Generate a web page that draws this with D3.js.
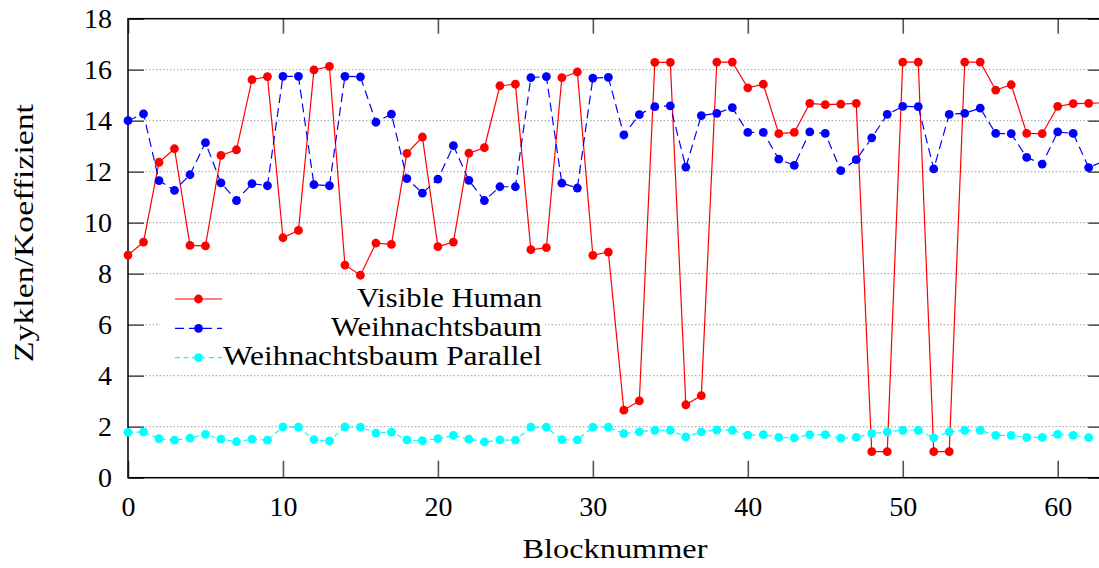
<!DOCTYPE html>
<html>
<head>
<meta charset="utf-8">
<script src="https://cdn.jsdelivr.net/npm/d3@7/dist/d3.min.js"></script>
<style>
  html, body { margin: 0; padding: 0; background: #fff; }
  svg { display: block; }
  svg text { font-family: 'Liberation Serif' !important; }
</style>
</head>
<body>
<svg id="chart" width="1099" height="568"></svg>
<script>
// Cycles per coefficient for each block (block number = array index)
const visibleHuman = [
  8.73, 9.24, 12.37, 12.9, 9.11, 9.09, 12.64, 12.86, 15.61, 15.73,
  9.41, 9.7, 15.99, 16.13, 8.34, 7.94, 9.2, 9.15, 12.72, 13.36,
  9.06, 9.24, 12.73, 12.94, 15.37, 15.43, 8.94, 9.02, 15.69, 15.91,
  8.72, 8.85, 2.65, 3.01, 16.29, 16.29, 2.86, 3.22, 16.3, 16.3,
  15.29, 15.43, 13.49, 13.54, 14.68, 14.63, 14.65, 14.68, 1.02, 1.02,
  16.3, 16.3, 1.02, 1.02, 16.3, 16.3, 15.2, 15.41, 13.5, 13.49,
  14.56, 14.67, 14.68, 14.7
];
const weihnachtsbaum = [
  14.0, 14.27, 11.65, 11.27, 11.88, 13.14, 11.56, 10.87, 11.53, 11.45,
  15.74, 15.74, 11.49, 11.45, 15.74, 15.72, 13.94, 14.26, 11.73, 11.16,
  11.71, 13.02, 11.66, 10.87, 11.41, 11.41, 15.69, 15.73, 11.55, 11.36,
  15.67, 15.7, 13.44, 14.24, 14.55, 14.58, 12.18, 14.2, 14.29, 14.51,
  13.54, 13.54, 12.49, 12.25, 13.56, 13.5, 12.04, 12.47, 13.33, 14.25,
  14.56, 14.55, 12.11, 14.25, 14.29, 14.49, 13.5, 13.49, 12.56, 12.3,
  13.56, 13.5, 12.16, 12.42
];
const weihnachtsbaumParallel = [
  1.78, 1.8, 1.53, 1.47, 1.55, 1.7, 1.51, 1.41, 1.51, 1.47,
  1.99, 1.98, 1.49, 1.44, 1.99, 1.98, 1.75, 1.79, 1.48, 1.45,
  1.53, 1.66, 1.51, 1.4, 1.48, 1.47, 1.98, 1.98, 1.49, 1.48,
  1.98, 1.98, 1.73, 1.8, 1.86, 1.86, 1.6, 1.8, 1.87, 1.86,
  1.67, 1.69, 1.58, 1.56, 1.69, 1.69, 1.55, 1.58, 1.73, 1.8,
  1.86, 1.86, 1.56, 1.8, 1.86, 1.86, 1.66, 1.66, 1.58, 1.58,
  1.7, 1.66, 1.57
];

const seriesNames = ["Visible Human", "Weihnachtsbaum", "Weihnachtsbaum Parallel"];
const xTicks = [0, 10, 20, 30, 40, 50, 60];
const yTicks = [0, 2, 4, 6, 8, 10, 12, 14, 16, 18];
const xDomain = [0, 63];
const yDomain = [0, 18];
const xTitle = "Blocknummer";
const yTitle = "Zyklen/Koeffizient";

const series = [
  { name: seriesNames[0], values: visibleHuman, color: "#ff0000", dash: null, legendWidth: 185 },
  { name: seriesNames[1], values: weihnachtsbaum, color: "#0000ff", dash: "9,5", legendWidth: 211 },
  { name: seriesNames[2], values: weihnachtsbaumParallel, color: "#00ffff", dash: "5,3.5", legendWidth: 319 }
];

const FONT = "'Liberation Serif'";
const svg = d3.select("#chart");
const plotLeft = 128, plotTop = 18.7, plotBottom = 477.7;
const unit = 15.495;
const plotRight = plotLeft + (xDomain[1] - xDomain[0]) * unit;

const x = d3.scaleLinear().domain(xDomain).range([plotLeft, plotRight]);
const y = d3.scaleLinear().domain(yDomain).range([plotBottom, plotTop]);

// horizontal dotted grid
svg.append("g").selectAll("line")
  .data(yTicks.filter(t => t > yDomain[0] && t < yDomain[1]))
  .join("line")
  .attr("x1", plotLeft).attr("x2", plotRight)
  .attr("y1", d => y(d)).attr("y2", d => y(d))
  .attr("stroke", "#a0a0a0").attr("stroke-width", 1)
  .attr("stroke-dasharray", "1.5,2");

// axes with inward ticks on all four sides
const tickColor = "#555";
function styleAxis(g) {
  g.attr("font-family", null).attr("font-size", null);
  g.select(".domain").remove();
  g.selectAll(".tick line").attr("stroke", tickColor).attr("stroke-width", 1.6);
  g.selectAll(".tick text")
    .style("font-family", FONT).style("font-size", "28px").attr("fill", "#000");
}
svg.append("g").attr("transform", `translate(${plotLeft},0)`)
  .call(d3.axisLeft(y).tickValues(yTicks).tickSize(-16).tickPadding(16).tickFormat(d3.format("d")))
  .call(styleAxis);
svg.append("g").attr("transform", `translate(${plotRight},0)`)
  .call(d3.axisRight(y).tickValues(yTicks).tickSize(-16).tickFormat(""))
  .call(styleAxis);
svg.append("g").attr("transform", `translate(0,${plotBottom})`)
  .call(d3.axisBottom(x).tickValues(xTicks).tickSize(-17).tickPadding(18.4).tickFormat(d3.format("d")))
  .call(styleAxis);
svg.append("g").attr("transform", `translate(0,${plotTop})`)
  .call(d3.axisTop(x).tickValues(xTicks).tickSize(-15).tickFormat(""))
  .call(styleAxis);

// plot frame
svg.append("rect")
  .attr("x", plotLeft).attr("y", plotTop)
  .attr("width", plotRight - plotLeft).attr("height", plotBottom - plotTop)
  .attr("fill", "none").attr("stroke", "#000").attr("stroke-width", 1.5);

// series lines and markers
const line = d3.line().x((d, i) => x(i)).y(d => y(d));
const r = 4.4;
series.forEach(s => {
  const g = svg.append("g");
  g.append("path")
    .attr("d", line(s.values))
    .attr("fill", "none")
    .attr("stroke", s.color)
    .attr("stroke-width", 1.2)
    .attr("stroke-dasharray", s.dash);
  g.selectAll("circle").data(s.values).join("circle")
    .attr("cx", (d, i) => x(i)).attr("cy", d => y(d))
    .attr("r", r).attr("fill", s.color);
});

// legend (opaque box)
const legend = svg.append("g");
legend.append("rect")
  .attr("x", 160).attr("y", 284).attr("width", 385).attr("height", 88)
  .attr("fill", "#fff");
series.forEach((s, i) => {
  const cy = 299 + i * 29.3;
  legend.append("line")
    .attr("x1", 175).attr("x2", 222).attr("y1", cy).attr("y2", cy)
    .attr("stroke", s.color).attr("stroke-width", 1.2)
    .attr("stroke-dasharray", s.dash);
  legend.append("circle").attr("cx", 198.5).attr("cy", cy).attr("r", r).attr("fill", s.color);
  legend.append("text")
    .attr("x", 542).attr("y", cy + 7.8)
    .attr("text-anchor", "end")
    .style("font-family", FONT).style("font-size", "27px")
    .attr("textLength", s.legendWidth)
    .attr("lengthAdjust", "spacingAndGlyphs")
    .text(s.name);
});

// axis titles
svg.append("text")
  .attr("x", 615).attr("y", 558)
  .attr("text-anchor", "middle")
  .style("font-family", FONT).style("font-size", "27px")
  .attr("textLength", 185).attr("lengthAdjust", "spacingAndGlyphs")
  .text(xTitle);
svg.append("text")
  .attr("transform", "translate(33,233) rotate(-90)")
  .attr("text-anchor", "middle")
  .style("font-family", FONT).style("font-size", "27px")
  .attr("textLength", 258).attr("lengthAdjust", "spacingAndGlyphs")
  .text(yTitle);
</script>
</body>
</html>
